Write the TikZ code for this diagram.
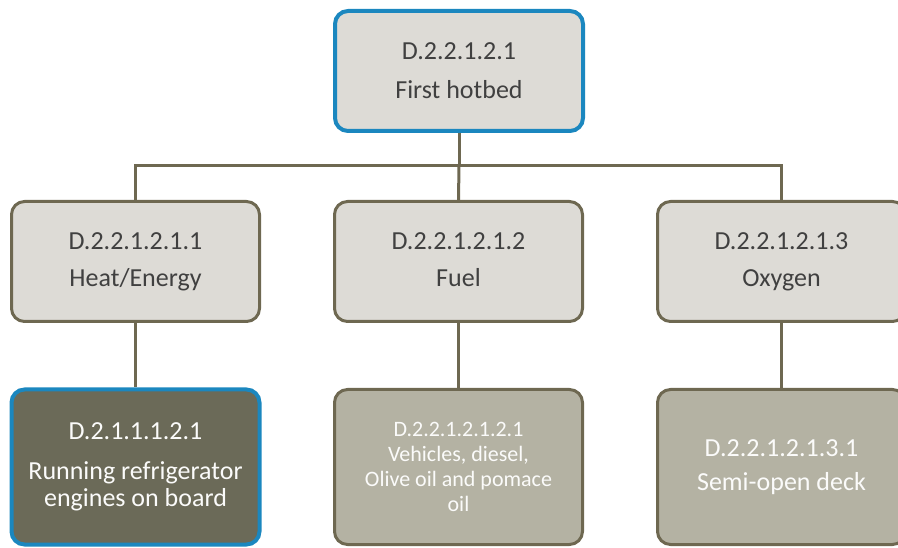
\documentclass[tikz,border=0pt]{standalone}
\usepackage{fontspec}
\setmainfont{Carlito}
\usetikzlibrary{positioning}

\definecolor{boxgrey}{HTML}{DDDBD6}
\definecolor{boxolive}{HTML}{B4B2A3}
\definecolor{boxdark}{HTML}{6B6A58}
\definecolor{lineolive}{HTML}{6E6851}
\definecolor{lineblue}{HTML}{1B87BF}
\definecolor{textdark}{HTML}{404040}

\begin{document}
\begin{tikzpicture}[x=1pt, y=-1pt,
			item/.style={draw=lineolive, line width=3pt, rounded corners=13pt,
				fill=boxgrey, text=textdark, align=center,
				minimum width=248pt, minimum height=120pt,
				font=\fontsize{26}{27}\selectfont},
			leaf/.style={item, fill=boxolive, text=white!95!boxolive,
				minimum height=155pt},
			focus/.style={draw=lineblue, line width=4pt},
			link/.style={draw=lineolive, line width=3pt}]
			\path[use as bounding box] (0,0) rectangle (898,548);
			\clip (0,0) rectangle (898,548);
			\node[item, focus] (hotbed) at (459, 71) {D.2.2.1.2.1\\[12pt]First hotbed};
			\node[item] (heat) at (135.5, 261.5) {D.2.2.1.2.1.1\\[10pt]Heat/Energy};
			\node[item] (fuel) at (458.5, 261.5) {D.2.2.1.2.1.2\\[10pt]Fuel\vphantom{g}};
			\node[item] (oxygen) at (781.5, 261.5) {D.2.2.1.2.1.3\\[10pt]Oxygen};
			\node[leaf, focus, fill=boxdark] (engines) at (135.5, 467) {D.2.1.1.1.2.1\\[13pt]Running refrigerator\\engines on board};
			\node[leaf, font=\fontsize{22}{25}\selectfont] (diesel) at (458.5, 467) {D.2.2.1.2.1.2.1\\Vehicles, diesel,\\Olive oil and pomace\\oil};
			\node[leaf] (deck) at (781.5, 467) {D.2.2.1.2.1.3.1\\[7pt]Semi-open deck};
			\coordinate (split) at (459, 166);
			
			\draw[link] (hotbed.south) -- (split);
			\draw[link] (split) -| (heat.north);
			\draw[link] (split) -| (oxygen.north);
			\draw[link] (split) -- (fuel.north);
			\draw[link] (heat.south) -- (engines.north);
			\draw[link] (fuel.south) -- (diesel.north);
			\draw[link] (oxygen.south) -- (deck.north);
			\end{tikzpicture}
\end{document}
